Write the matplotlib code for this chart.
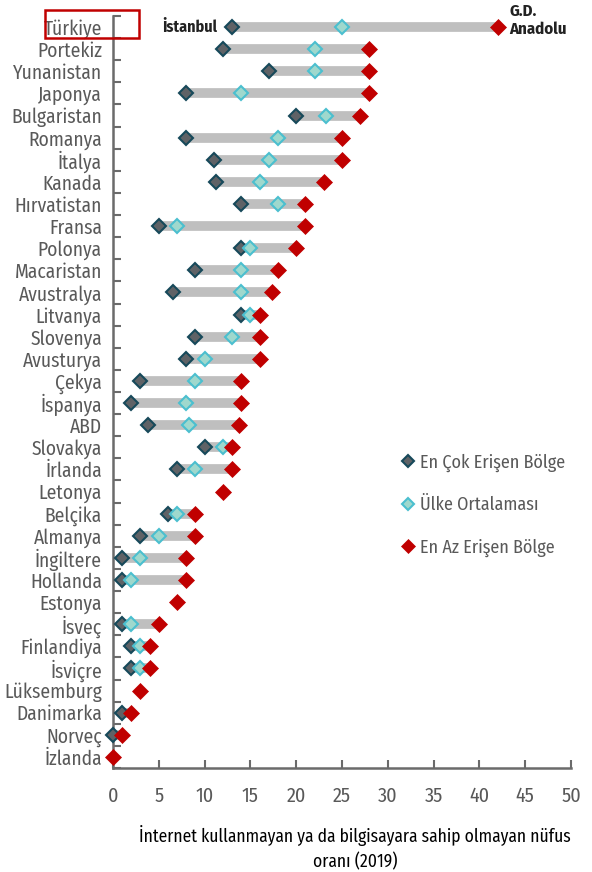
"""Bölgesel dijital uçurum: en çok / en az erişen bölge ve ülke ortalaması (2019)."""
import matplotlib

matplotlib.use("Agg")
import matplotlib.pyplot as plt
from matplotlib.patches import Rectangle
import numpy as np

plt.rcParams["font.family"] = ["Fira Sans Condensed", "DejaVu Sans"]

COUNTRIES = [
    "Türkiye", "Portekiz", "Yunanistan", "Japonya", "Bulgaristan", "Romanya",
    "İtalya", "Kanada", "Hırvatistan", "Fransa", "Polonya", "Macaristan",
    "Avustralya", "Litvanya", "Slovenya", "Avusturya", "Çekya", "İspanya",
    "ABD", "Slovakya", "İrlanda", "Letonya", "Belçika", "Almanya",
    "İngiltere", "Hollanda", "Estonya", "İsveç", "Finlandiya", "İsviçre",
    "Lüksemburg", "Danimarka", "Norveç", "İzlanda",
]
# en çok erişen bölge (None = tek bölge)
best = [13, 12, 17, 8, 20, 8, 11, 11.2, 14, 5, 14, 9, 6.5, 14, 9, 8, 3, 2,
        3.8, 10, 7, None, 6, 3, 1, 1, None, 1, 2, 2, None, 1, 0, None]
# ülke ortalaması
avg = [25, 22, 22, 14, 23.3, 18, 17, 16, 18, 7, 15, 14, 14, 15, 13, 10, 9, 8,
       8.3, 12, 9, None, 7, 5, 3, 2, None, 2, 3, 3, None, None, None, None]
# en az erişen bölge
worst = [42, 28, 28, 28, 27, 25, 25, 23, 21, 21, 20, 18, 17.4, 16, 16, 16, 14, 14,
         13.8, 13, 13, 12, 9, 9, 8, 8, 7, 5, 4, 4, 3, 2, 1, 0]

GREY = "#595959"
AXIS = "#6b6b6b"
W, H = 592, 872

y = np.arange(len(COUNTRIES))
best_a = np.array([np.nan if v is None else v for v in best], dtype=float)
avg_a = np.array([np.nan if v is None else v for v in avg], dtype=float)
worst_a = np.array(worst, dtype=float)

fig = plt.figure(figsize=(W / 100, H / 100), dpi=100)
ax = fig.add_axes([113 / W, 1 - 768 / H, (571 - 113) / W, (768 - 16) / H])

# gri aralık çubukları
has = ~np.isnan(best_a)
ax.hlines(y[has], best_a[has], worst_a[has], color="#bfbfbf", lw=7, zorder=1)

ms = 7.2
ax.plot(best_a, y, ls="none", marker="D", ms=ms, mfc="#5f6266", mec="#17495a",
        mew=1.5, zorder=3, label="En Çok Erişen Bölge")
ax.plot(avg_a, y, ls="none", marker="D", ms=ms, mfc="#9fd8cd", mec="#4bbfcf",
        mew=1.5, zorder=4, label="Ülke Ortalaması")
ax.plot(worst_a, y, ls="none", marker="D", ms=ms + 1, mfc="#c00000", mec="#c00000",
        mew=0.5, zorder=5, label="En Az Erişen Bölge")
for ln in ax.lines:
    ln.set_clip_on(False)

ax.set_xlim(0, 50)
ax.set_ylim(len(COUNTRIES) - 0.5, -0.5)
ax.set_xticks(np.arange(0, 51, 5))
ax.set_yticks(y)
ax.set_yticklabels(COUNTRIES, fontsize=14, color=GREY)
ax.set_yticks(np.arange(-0.5, len(COUNTRIES), 1), minor=True)
ax.tick_params(axis="y", which="major", length=0, pad=8)
ax.tick_params(axis="y", which="minor", direction="in", length=6, width=1.5, color=AXIS)
ax.tick_params(axis="x", direction="in", length=6, width=1.5, color=AXIS,
               labelsize=14.5, labelcolor=GREY, pad=13)
for s in ("top", "right"):
    ax.spines[s].set_visible(False)
for s in ("left", "bottom"):
    ax.spines[s].set_color(AXIS)
    ax.spines[s].set_linewidth(1.8)

ax.set_xlabel("İnternet kullanmayan ya da bilgisayara sahip olmayan nüfus\noranı (2019)",
              fontsize=12.6, color="black", linespacing=1.45, labelpad=14)
ax.xaxis.label.set_x((355 - 113) / (571 - 113))

# Türkiye notları
ax.text(best_a[0] - 1.6, 0, "İstanbul", ha="right", va="center", fontsize=11.5,
        fontweight="bold", color="#222222")
ax.text(worst_a[0] + 1.3, -0.3, "G.D.\nAnadolu", ha="left", va="center", fontsize=12,
        fontweight="bold", color="#222222", linespacing=1.1)

# Türkiye etiketi çevresindeki kırmızı kutu
fig.patches.append(Rectangle((45 / W, 1 - 38 / H), 94 / W, 28 / H,
                             transform=fig.transFigure, fill=False,
                             ec="#c00000", lw=1.8))

leg = ax.legend(loc="center left", bbox_to_anchor=(401 / W, 1 - 505 / H),
                bbox_transform=fig.transFigure, frameon=False, fontsize=13,
                labelspacing=1.35, handlelength=0.8, handletextpad=0.25,
                borderpad=0, borderaxespad=0, markerscale=0.85)
for t in leg.get_texts():
    t.set_color(GREY)

fig.savefig("out.png", dpi=100)
